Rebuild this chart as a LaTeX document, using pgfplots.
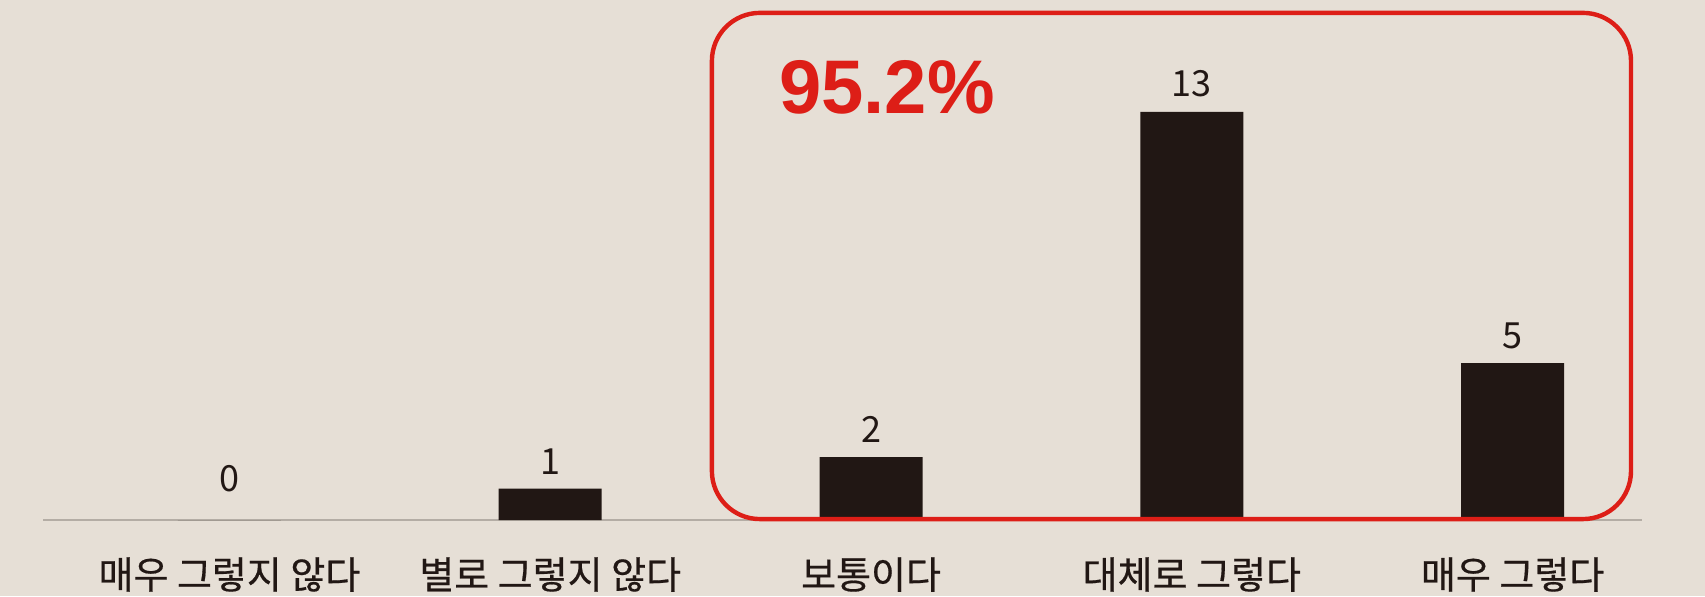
\documentclass[border=0pt]{standalone}
\usepackage{pgfplots}
\pgfplotsset{compat=1.18}
\usepackage{fontspec}
\newfontfamily\kr{Noto Sans CJK KR}
\newfontfamily\krm[FakeBold=0.5]{Noto Sans CJK KR}
\newfontfamily\bignum{Liberation Sans}
\definecolor{bgc}{RGB}{230,223,214}
\definecolor{barc}{RGB}{33,23,20}
\definecolor{redc}{RGB}{221,30,23}
\definecolor{linec}{RGB}{180,173,165}
\begin{document}
\begin{tikzpicture}
\begin{axis}[
  scale only axis,
  width=852.5pt, height=298pt,
  xmin=-0.7151, xmax=4.5997,
  ymin=-2.420, ymax=16.56,
  axis background/.style={fill=bgc},
  axis line style={draw=none},
  tick style={draw=none},
  ytick=\empty,
  xtick={0,1,2,3,4},
  xticklabels={매우 그렇지 않다, 별로 그렇지 않다, 보통이다, 대체로 그렇다, 매우 그렇다},
  xticklabel style={font=\krm\fontsize{19}{19}\selectfont, text=barc, anchor=center, yshift=15pt},
  /pgf/number format/assume math mode=true,
  ybar, bar width=51.5pt,
  clip=false,
]
\draw[linec, line width=1pt] (axis cs:-0.581,0) -- (axis cs:4.403,0);
\addplot[fill=barc, draw=none, bar shift=0pt,
  nodes near coords,
  nodes near coords style={font=\kr\fontsize{18}{18}\selectfont, text=barc, inner sep=0pt, anchor=south, yshift=7pt}]
  coordinates {(1,1) (2,2) (3,13) (4,5)};
\addplot[fill=barc, draw=none, bar shift=0pt,
  nodes near coords,
  nodes near coords style={font=\kr\fontsize{18}{18}\selectfont, text=barc, inner sep=0pt, anchor=south, yshift=14pt}]
  coordinates {(0,0)};
\draw[redc, line width=2.2pt, rounded corners=24pt] (axis cs:1.504,0.03) rectangle (axis cs:4.369,16.15);
\node[font=\bignum\bfseries\fontsize{38}{38}\selectfont, text=redc, anchor=west, inner sep=0pt] at (axis cs:1.7125,13.79) {95.2\%};
\end{axis}
\pgfresetboundingbox
\path[use as bounding box] (current axis.south west) rectangle (current axis.north east);
\end{tikzpicture}
\end{document}
